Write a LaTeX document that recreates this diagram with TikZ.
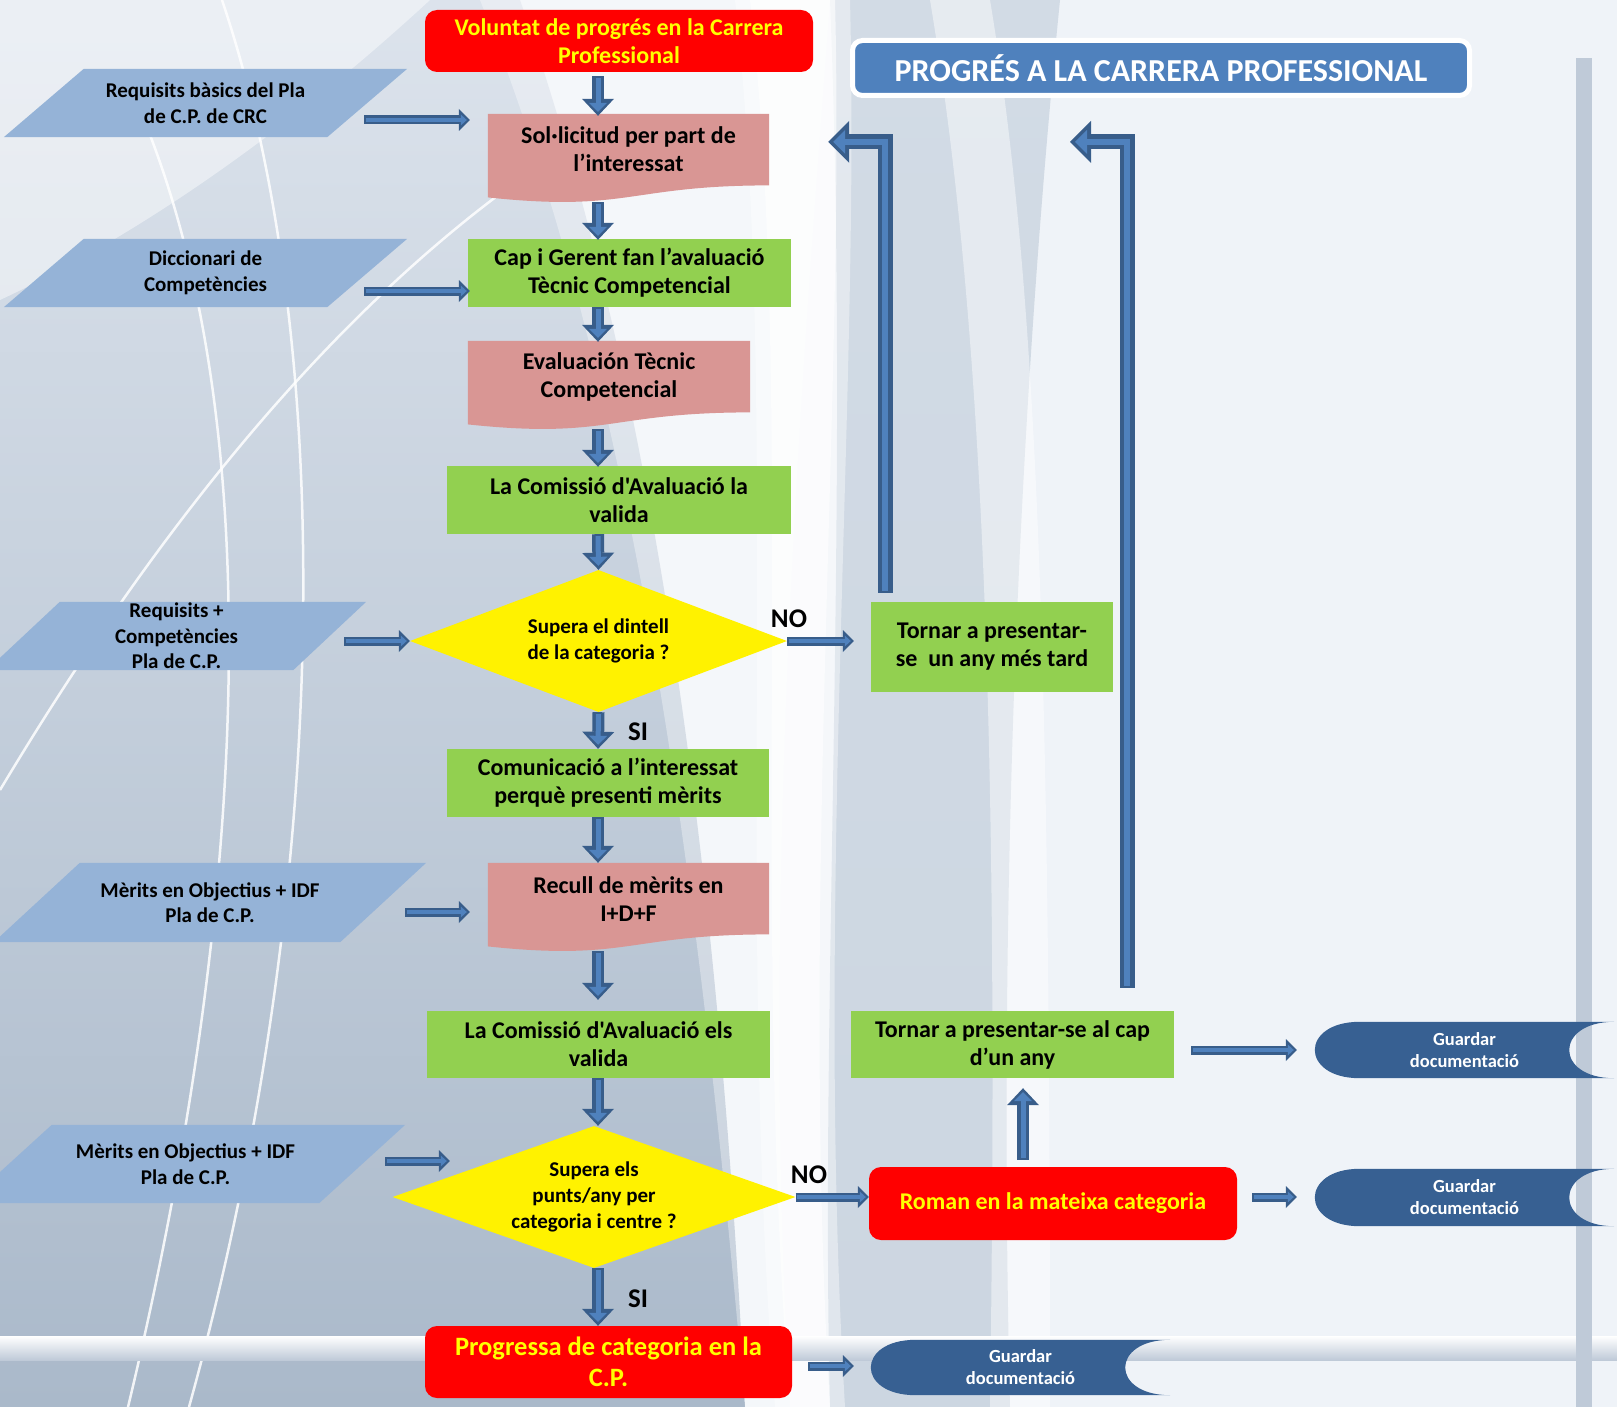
\documentclass[tikz,border=0pt]{standalone}
\usepackage{fontspec}
\setmainfont{Carlito}[Ligatures=TeXOff]
\usetikzlibrary{arrows.meta,calc,shapes.geometric}
\pgfdeclarelayer{back}
\pgfdeclarelayer{shapes}
\pgfsetlayers{back,shapes,main}
\definecolor{bgbase}{HTML}{EFF3F8}
\definecolor{bgA}{HTML}{DCE3EC}
\definecolor{bgB}{HTML}{AAB9CA}
\definecolor{bgC}{HTML}{D2DBE5}
\definecolor{bgD}{HTML}{BFCAD8}
\definecolor{boxgreen}{HTML}{92D050}
\definecolor{docpink}{HTML}{D99694}
\definecolor{parblue}{HTML}{95B3D7}
\definecolor{titleblue}{HTML}{4F81BD}
\definecolor{storeblue}{HTML}{376092}
\definecolor{adark}{HTML}{385D8A}
\definecolor{alight}{HTML}{4F81BD}
\definecolor{ryellow}{HTML}{FFFF00}
\newcommand\fsz[2]{\fontsize{#1}{#2}\selectfont}
\tikzset{
  every node/.style={inner sep=0pt, align=center},
  base/.style={font=\bfseries\fsz{24}{28}, text=black},
  gbox/.style={base, fill=boxgreen},
  rbox/.style={base, fill=red, rounded corners=12pt, text=ryellow},
  dnode/.style={base},
  pnode/.style={font=\bfseries\fsz{21}{25.5}, text=black},
  qnode/.style={diamond, fill=yellow, font=\bfseries\fsz{21}{26}, text=black},
  snode/.style={font=\bfseries\fsz{18.5}{22}, text=white},
  titlebox/.style={fill=titleblue, draw=white, line width=5pt, rounded corners=10pt, text=white, font=\bfseries\fsz{32}{36}},
  lab/.style={font=\bfseries\fsz{27}{30}, text=black},
  bgline/.style={draw=white, line width=2.5pt, opacity=0.85},
  aoA/.style={draw=adark, line width=12pt, -{Triangle[width=32pt,length=17pt,line width=0pt]}},
  aiA/.style={draw=alight, line width=5pt, shorten >=4pt, shorten <=2pt, -{Triangle[width=18pt,length=9pt,line width=0pt]}},
  aoB/.style={draw=adark, line width=9pt, -{Triangle[width=22pt,length=11pt,line width=0pt]}},
  aiB/.style={draw=alight, line width=3.5pt, shorten >=3pt, shorten <=1.5pt, -{Triangle[width=11pt,length=6pt,line width=0pt]}},
  aoC/.style={draw=adark, line width=15pt, line join=miter, -{Triangle[width=42pt,length=21pt,line width=0pt]}},
  aiC/.style={draw=alight, line width=6pt, line join=miter, shorten >=5pt, shorten <=2pt, -{Triangle[width=24pt,length=12pt,line width=0pt]}},
}
\newcommand\arrA[1]{\draw[aoA] #1; \draw[aiA] #1;}
\newcommand\arrB[1]{\draw[aoB] #1; \draw[aiB] #1;}
\newcommand\arrC[1]{\draw[aoC] #1; \draw[aiC] #1;}
\newcommand\parashape[2]{\fill[parblue] ($(#1.north west)+(#2,0)$) -- (#1.north east) -- ($(#1.south east)+(-#2,0)$) -- (#1.south west) -- cycle;}
\newcommand\docshape[1]{\fill[docpink] (#1.north west) -- (#1.north east) -- (#1.south east) .. controls (#1.south) and ($(#1.south)+(0,27)$) .. ($(#1.south west)+(0,12)$) -- cycle;}
\newcommand\storeshape[1]{\fill[storeblue] ($(#1.north west)+(45,0)$) -- (#1.north east) .. controls ($(#1.north east)+(-60,0)$) and ($(#1.south east)+(-60,0)$) .. (#1.south east) -- ($(#1.south west)+(45,0)$) .. controls ($(#1.south west)+(-15,0)$) and ($(#1.north west)+(-15,0)$) .. ($(#1.north west)+(45,0)$) -- cycle;}
\begin{document}
\begin{tikzpicture}[x=1pt,y=-1pt]
\useasboundingbox (0,0) rectangle (1617,1407);
% ---------- background ----------
\begin{pgfonlayer}{back}
\fill[bgbase] (0,0) rectangle (1617,1407);
% grey band right of the centre
\shade[top color=bgC, bottom color=bgC!85!bgB] (830,0) .. controls (850,500) and (820,1000) .. (830,1407) -- (1010,1407) .. controls (1000,1000) and (1010,500) .. (1060,0) -- cycle;
\fill[white, opacity=0.45] (930,0) .. controls (980,300) and (1000,700) .. (990,1407) -- (1050,1407) .. controls (1050,700) and (1040,300) .. (990,0) -- cycle;
% dark left region
\shade[top color=bgA, bottom color=bgB] (0,0) -- (520,0) .. controls (660,400) and (720,900) .. (745,1407) -- (0,1407) -- cycle;
\fill[white, opacity=0.45] (0,0) -- (430,0) .. controls (300,120) and (150,230) .. (0,300) -- cycle;
% light area behind the central column
\fill[white, opacity=0.35] (480,0) .. controls (640,400) and (700,900) .. (745,1407) -- (790,1407) .. controls (760,900) and (800,400) .. (830,0) -- cycle;
\fill[white, opacity=0.4] (735,0) .. controls (780,400) and (735,900) .. (775,1407) -- (845,1407) .. controls (815,900) and (860,400) .. (850,0) -- cycle;
\fill[white, opacity=0.6] (750,0) .. controls (795,400) and (750,900) .. (790,1407) -- (830,1407) .. controls (800,900) and (845,400) .. (835,0) -- cycle;
% white lines
\draw[bgline] (0,790) .. controls (120,590) and (300,330) .. (540,165);
\draw[bgline] (140,110) .. controls (270,420) and (250,900) .. (128,1407);
\draw[bgline] (222,0) .. controls (340,350) and (330,900) .. (189,1407);
% bottom bar and right bar
\shade[top color=white, bottom color=bgD] (0,1336) rectangle (1617,1360);
\fill[bgD] (1576,58) rectangle (1592,1407);
\end{pgfonlayer}
% ---------- nodes ----------
\coordinate (colx) at (598,0);
\node[rbox, minimum width=388pt, minimum height=62pt] (vol) at (619,41) {Voluntat de progrés en la Carrera\\Professional};
\node[titlebox, minimum width=617pt, minimum height=55pt] (title) at (1161,68) {PROGRÉS A LA CARRERA PROFESSIONAL};
\node[dnode, minimum width=281pt, minimum height=71.2pt] (doc1) at (628.5,149.6) {Sol·licitud per part de\\l’interessat};
\node[gbox, minimum width=323pt, minimum height=68pt] (g1) at (629.5,273) {Cap i Gerent fan l’avaluació\\Tècnic Competencial};
\node[dnode, minimum width=282pt, minimum height=71.2pt] (doc2) at (609,376.6) {Evaluación Tècnic\\Competencial};
\node[gbox, minimum width=344pt, minimum height=68pt] (g2) at (619,500) {La Comissió d'Avaluació la\\valida};
\node[qnode, aspect=2.65, minimum width=377pt, minimum height=142pt] (d1) at (598.5,641) {Supera el dintell\\de la categoria ?};
\node[gbox, minimum width=242pt, minimum height=90pt] (t1) at (992,647) {Tornar a presentar-\\se~ un any més tard};
\node[gbox, minimum width=322pt, minimum height=68pt] (g3) at (608,783) {Comunicació a l’interessat\\perquè presenti mèrits};
\node[dnode, minimum width=281pt, minimum height=71.2pt] (doc3) at (628.5,898.6) {Recull de mèrits en\\I+D+F};
\node[gbox, minimum width=343pt, minimum height=67pt] (g4) at (598.5,1044.5) {La Comissió d'Avaluació els\\valida};
\node[gbox, minimum width=323pt, minimum height=67pt] (t2) at (1012.5,1044.5) {Tornar a presentar-se al cap\\d’un any};
\node[qnode, aspect=2.84, minimum width=403pt, minimum height=142pt] (d2) at (594,1197) {Supera els\\punts/any per\\categoria i centre ?};
\node[rbox, minimum width=368pt, minimum height=73pt] (roman) at (1053,1203.5) {Roman en la mateixa categoria};
\node[rbox, minimum width=367pt, minimum height=72pt, font=\bfseries\fsz{26.5}{31}] (prog) at (608.5,1362) {Progressa de categoria en la\\C.P.};
\node[snode, minimum width=299pt, minimum height=56pt] (gd1) at (1464.5,1050) {Guardar\\documentació};
\node[snode, minimum width=299pt, minimum height=57pt] (gd2) at (1464.5,1197.5) {Guardar\\documentació};
\node[snode, minimum width=299pt, minimum height=55pt] (gd3) at (1020.5,1367.5) {Guardar\\documentació};
\node[pnode, minimum width=403pt, minimum height=68pt] (p1) at (205.5,103) {Requisits bàsics del Pla\\de C.P. de CRC};
\node[pnode, minimum width=403pt, minimum height=68pt] (p2) at (205.5,273) {Diccionari de\\Competències};
\node[pnode, minimum width=379pt, minimum height=68pt] (p3) at (176.5,636) {Requisits +\\Competències\\Pla de C.P.};
\node[pnode, minimum width=432pt, minimum height=79pt] (p4) at (210,902.5) {Mèrits en Objectius + IDF\\Pla de C.P.};
\node[pnode, minimum width=439pt, minimum height=78pt] (p5) at (185.5,1164) {Mèrits en Objectius + IDF\\Pla de C.P.};
\node[lab] (no1) at (789,619) {NO};
\node[lab] (no2) at (809,1175) {NO};
\node[lab] (si1) at (638,732) {SI};
\node[lab] (si2) at (638,1299) {SI};
% ---------- shapes behind text ----------
\begin{pgfonlayer}{shapes}
\docshape{doc1}
\docshape{doc2}
\docshape{doc3}
\parashape{p1}{80}
\parashape{p2}{80}
\parashape{p3}{73}
\parashape{p4}{86}
\parashape{p5}{86}
\storeshape{gd1}
\storeshape{gd2}
\storeshape{gd3}
\end{pgfonlayer}
% ---------- vertical flow arrows ----------
\arrA{($(vol.south -| colx)+(0,4)$) -- ($(doc1.north -| colx)+(0,2)$)}
\arrA{($(doc1.south -| colx)+(0,17)$) -- ($(g1.north -| colx)+(0,1)$)}
\arrA{(g1.south -| colx) -- ($(doc2.north -| colx)+(0,1)$)}
\arrA{($(doc2.south -| colx)+(0,17)$) -- ($(g2.north -| colx)+(0,1)$)}
\arrA{(g2.south -| colx) -- (d1.north)}
\arrA{(d1.south) -- (g3.north -| colx)}
\arrA{(g3.south -| colx) -- (doc3.north -| colx)}
\arrA{($(doc3.south -| colx)+(0,17)$) -- ($(g4.north -| colx)+(0,-11)$)}
\arrA{(g4.south -| colx) -- (d2.north -| colx)}
\arrA{(d2.south -| colx) -- (prog.north -| colx)}
\arrA{($(roman.north)+(-30,-7)$) -- ($(t2.south)+(10.5,10)$)}
% ---------- horizontal arrows ----------
\coordinate (h1s) at ($(p1.east)+(-43,17)$);
\coordinate (h2s) at ($(p2.east)+(-43,18)$);
\coordinate (h3s) at ($(p3.east)+(-22,5)$);
\coordinate (h4s) at ($(p4.east)+(-21,9.5)$);
\coordinate (h5s) at ($(p5.east)+(-20,-3)$);
\coordinate (h8s) at ($(t2.east)+(17,5.5)$);
\coordinate (h9s) at ($(roman.east)+(15,-6.5)$);
\coordinate (h10s) at ($(prog.east)+(16,4)$);
\arrB{(h1s) -- ($(h1s -| doc1.west)+(-18,0)$)}
\arrB{(h2s) -- ($(h2s -| g1.west)+(2,0)$)}
\arrB{(h3s) -- (h3s -| d1.west)}
\arrB{(h4s) -- ($(h4s -| doc3.west)+(-18,0)$)}
\arrB{(h5s) -- ($(h5s -| d2.west)+(57.5,0)$)}
\arrB{(d1.east) -- ($(t1.west |- d1.east)+(-17,0)$)}
\arrB{(d2.east) -- (roman.west |- d2.east)}
\arrB{(h8s) -- ($(h8s -| gd1.west)+(-18,0)$)}
\arrB{(h9s) -- ($(h9s -| gd2.west)+(-18,0)$)}
\arrB{(h10s) -- ($(h10s -| gd3.west)+(-17,0)$)}
% ---------- loop-back arrows ----------
\coordinate (L1s) at ($(t1.north)+(-107,-9)$);
\coordinate (L1c) at ($(L1s |- doc1.north)+(0,28)$);
\coordinate (L2s) at ($(t2.north)+(114.5,-23)$);
\coordinate (L2c) at ($(L2s |- doc1.north)+(0,28)$);
\arrC{(L1s) -- (L1c) -- ($(L1c -| doc1.east)+(59,0)$)}
\arrC{(L2s) -- (L2c) -- ($(L2c)+(-57,0)$)}
\end{tikzpicture}
\end{document}
